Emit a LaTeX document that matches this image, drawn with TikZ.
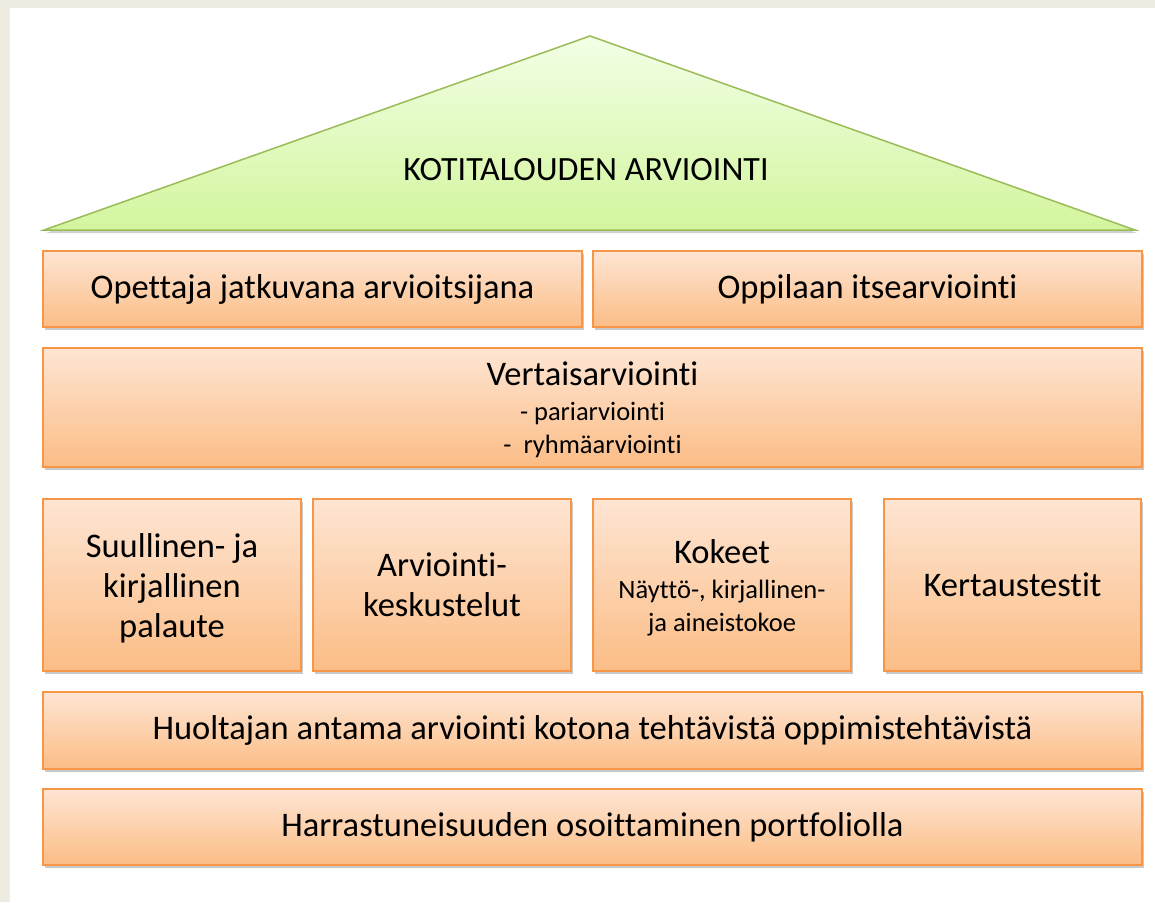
\documentclass[tikz,border=0pt]{standalone}
\usepackage{fontspec}
\setmainfont[Ligatures=NoCommon]{Carlito}
\usetikzlibrary{shadows}
\definecolor{bg}{HTML}{EEECE1}
\definecolor{obord}{HTML}{F79646}
\definecolor{otop}{HTML}{FEE5D3}
\definecolor{obot}{HTML}{FBBD86}
\definecolor{gtop}{HTML}{F2FFE6}
\definecolor{gbot}{HTML}{D3F59E}
\definecolor{gbord}{HTML}{9BBB59}
\tikzset{
  box/.style={draw=obord, line width=1.3pt, top color=otop, bottom color=obot,
    drop shadow={shadow xshift=2pt, shadow yshift=-3pt, opacity=0.35, fill=black!60},
    align=center, inner sep=0pt, text=black, font=\fontsize{34.5}{40}\selectfont},
  lbl/.style={align=center, inner sep=0pt, text=black, font=\fontsize{34.5}{40}\selectfont}
}
\newcommand{\smalltxt}{\fontsize{26.5}{33}\selectfont}
\begin{document}
\begin{tikzpicture}[x=1pt,y=-1pt]
\useasboundingbox (0,0) rectangle (1155,902);
\fill[bg] (0,0) rectangle (1155,902);
\fill[white] (10,8) rectangle (1155,902);
% roof
\path[draw=gbord, line width=1.5pt, top color=gtop, bottom color=gbot,
  drop shadow={shadow xshift=2pt, shadow yshift=-3pt, opacity=0.3, fill=black!60}]
  (44,230) -- (590,36) -- (1135,230) -- cycle;
\node[font=\fontsize{34}{40}\selectfont] (title) at (586,170) {KOTITALOUDEN ARVIOINTI};
% row 1
\node[box, minimum width=539pt, minimum height=76pt] (opettaja) at (312.5,289) {Opettaja jatkuvana arvioitsijana};
\node[box, minimum width=549pt, minimum height=76pt] (oppilaan) at (867.5,289) {Oppilaan itsearviointi};
% row 2
\node[box, minimum width=1099pt, minimum height=119pt,
  label={[lbl, yshift=-2pt]center:{Vertaisarviointi\\[-5pt] {\smalltxt - pariarviointi}\\[-7pt] {\smalltxt -\ \ ryhmäarviointi}}}]
  (vertais) at (592.5,407.5) {};
% row 3
\node[box, minimum width=258pt, minimum height=172pt,
  label={[lbl, yshift=-3pt]center:{Suullinen- ja\\ kirjallinen\\ palaute}}] (suul) at (172,585) {};
\node[box, minimum width=258pt, minimum height=172pt] (arv) at (442,585) {Arviointi-\\ keskustelut};
\node[box, minimum width=258pt, minimum height=172pt,
  label={[lbl, yshift=-3pt]center:{Kokeet\\[-5pt] {\smalltxt Näyttö-, kirjallinen-}\\[-7pt] {\smalltxt ja aineistokoe}}}]
  (kokeet) at (722,585) {};
\node[box, minimum width=257pt, minimum height=172pt] (kertaus) at (1012.5,585) {Kertaustestit};
% row 4
\node[box, minimum width=1099pt, minimum height=77pt] (huoltajan) at (592.5,730.5) {Huoltajan antama arviointi kotona tehtävistä oppimistehtävistä};
% row 5
\node[box, minimum width=1099pt, minimum height=76pt] (harr) at (592.5,827) {Harrastuneisuuden osoittaminen portfoliolla};
\end{tikzpicture}
\end{document}
